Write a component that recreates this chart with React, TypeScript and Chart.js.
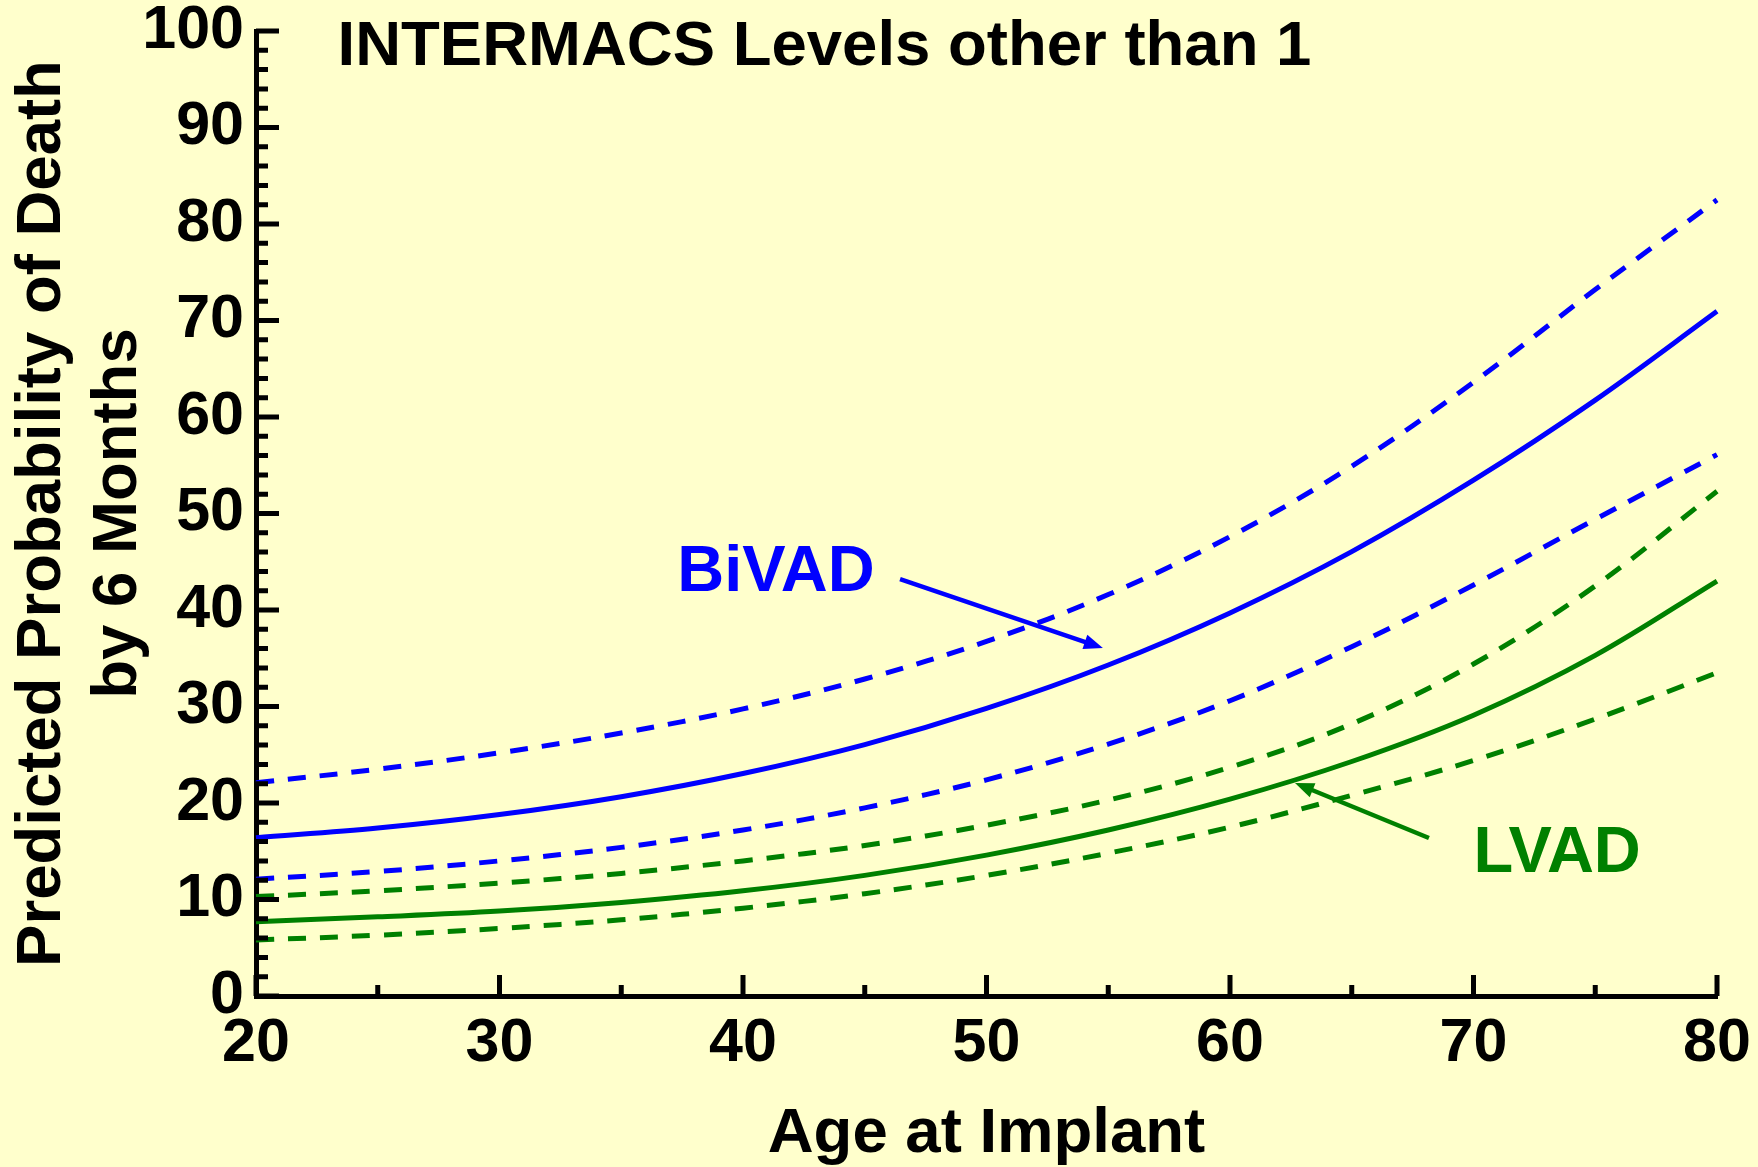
import React, { useEffect, useRef } from "react";
import { Chart, registerables } from "chart.js";

Chart.register(...registerables);

// ---- data ----
const ages = [20, 25, 30, 35, 40, 45, 50, 55, 60, 65, 70, 75, 80];
const bivadEstimate = [16.4, 17.4, 18.8, 20.65, 23.05, 26.05, 29.8, 34.3, 39.7, 46.05, 53.45, 61.75, 70.95];
const bivadUpper = [22.1, 23.5, 25.2, 27.25, 29.75, 32.85, 36.75, 41.6, 47.6, 54.9, 63.6, 73.2, 82.5];
const bivadLower = [12.1, 12.9, 14.0, 15.4, 17.2, 19.5, 22.4, 26.1, 30.6, 36.2, 42.6, 49.4, 56.1];
const lvadEstimate = [7.7, 8.2, 8.8, 9.7, 10.9, 12.5, 14.6, 17.2, 20.4, 24.3, 29.1, 35.3, 43.0];
const lvadUpper = [10.3, 10.9, 11.7, 12.7, 14.0, 15.6, 17.7, 20.3, 23.7, 28.2, 34.4, 42.5, 52.3];
const lvadLower = [5.8, 6.3, 7.0, 7.9, 9.1, 10.6, 12.5, 14.8, 17.5, 20.8, 24.4, 28.7, 33.5];

const xTickValues = [20, 30, 40, 50, 60, 70, 80];
const yTickValues = [0, 10, 20, 30, 40, 50, 60, 70, 80, 90, 100];

const chartTitle = "INTERMACS Levels other than 1";
const xTitle = "Age at Implant";
const yTitle = ["Predicted Probability of Death", "by 6 Months"];

const BLUE = "#0000FF";
const GREEN = "#008000";
const BG = "#FFFFCC";
const FONT = "'Liberation Sans', Arial, Helvetica, sans-serif";

const toPoints = (vals: number[]) => ages.map((a, i) => ({ x: a, y: vals[i] }));

const inwardTicks = {
  id: "inwardTicks",
  afterDraw(chart: any) {
    const { ctx, scales } = chart;
    const x = scales.x;
    const y = scales.y;
    const x0 = x.getPixelForValue(20);
    const y0 = y.getPixelForValue(0);
    ctx.save();
    ctx.strokeStyle = "#000";
    ctx.lineWidth = 5;
    ctx.lineCap = "butt";
    ctx.beginPath();
    for (let v = 0; v <= 100; v += 2) {
      const py = y.getPixelForValue(v);
      const len = v % 10 === 0 ? 23 : 12;
      ctx.moveTo(x0, py);
      ctx.lineTo(x0 + len, py);
    }
    for (let v = 20; v <= 80; v += 5) {
      const px = x.getPixelForValue(v);
      const len = v % 10 === 0 ? 21 : 11;
      ctx.moveTo(px, y0);
      ctx.lineTo(px, y0 - len);
    }
    ctx.stroke();
    ctx.restore();
  },
};

function drawArrow(ctx: any, x1: number, y1: number, x2: number, y2: number, color: string) {
  const ang = Math.atan2(y2 - y1, x2 - x1);
  const headLen = 19;
  const headHalf = 7.5;
  const bx = x2 - headLen * Math.cos(ang);
  const by = y2 - headLen * Math.sin(ang);
  ctx.save();
  ctx.strokeStyle = color;
  ctx.fillStyle = color;
  ctx.lineWidth = 4.5;
  ctx.lineCap = "butt";
  ctx.beginPath();
  ctx.moveTo(x1, y1);
  ctx.lineTo(bx + 2 * Math.cos(ang), by + 2 * Math.sin(ang));
  ctx.stroke();
  ctx.beginPath();
  ctx.moveTo(x2, y2);
  ctx.lineTo(bx + headHalf * Math.sin(ang), by - headHalf * Math.cos(ang));
  ctx.lineTo(bx - headHalf * Math.sin(ang), by + headHalf * Math.cos(ang));
  ctx.closePath();
  ctx.fill();
  ctx.restore();
}

const annotations = {
  id: "annotations",
  afterDraw(chart: any) {
    const { ctx, scales } = chart;
    const x = scales.x;
    const y = scales.y;
    const px = (v: number) => x.getPixelForValue(v);
    const py = (v: number) => y.getPixelForValue(v);
    ctx.save();
    ctx.textBaseline = "alphabetic";
    ctx.textAlign = "left";
    ctx.font = `bold 63.5px ${FONT}`;
    ctx.fillStyle = "#000";
    ctx.fillText(chartTitle, px(23.35), py(96.5));
    ctx.font = `bold 65px ${FONT}`;
    ctx.fillStyle = BLUE;
    ctx.fillText("BiVAD", px(37.3), py(41.95));
    ctx.fillStyle = GREEN;
    ctx.fillText("LVAD", px(70.0), py(12.85));
    ctx.restore();
    drawArrow(ctx, px(46.45), py(43.2), px(54.78), py(36.06), BLUE);
    drawArrow(ctx, px(68.17), py(16.37), px(62.67), py(22.07), GREEN);
  },
};

export default function App() {
  const canvasRef = useRef<HTMLCanvasElement | null>(null);

  useEffect(() => {
    const canvas = canvasRef.current;
    if (!canvas) return;
    const dash = [18, 14];
    const mk = (label: string, vals: number[], color: string, dashed: boolean) => ({
      label,
      data: toPoints(vals),
      borderColor: color,
      backgroundColor: color,
      borderWidth: 5,
      borderDash: dashed ? dash : [],
      pointRadius: 0,
      fill: false,
      tension: 0.35,
      clip: false as any,
    });
    const chart = new Chart(canvas, {
      type: "line",
      data: {
        datasets: [
          mk("BiVAD upper", bivadUpper, BLUE, true),
          mk("BiVAD", bivadEstimate, BLUE, false),
          mk("BiVAD lower", bivadLower, BLUE, true),
          mk("LVAD upper", lvadUpper, GREEN, true),
          mk("LVAD", lvadEstimate, GREEN, false),
          mk("LVAD lower", lvadLower, GREEN, true),
        ],
      },
      options: {
        animation: false,
        responsive: false,
        devicePixelRatio: 1,
        layout: { padding: { top: 31, right: 41, left: 0, bottom: 0 } },
        plugins: {
          legend: { display: false },
          title: { display: false },
          tooltip: { enabled: false },
        },
        scales: {
          x: {
            type: "linear",
            min: 20,
            max: 80,
            afterBuildTicks: (scale: any) => {
              scale.ticks = xTickValues.map((v) => ({ value: v }));
            },
            ticks: {
              font: { family: FONT, size: 61, weight: "bold", lineHeight: 1.2 },
              color: "#000",
              padding: 4,
              maxRotation: 0,
              autoSkip: false,
            },
            grid: { display: false },
            border: { display: true, color: "#000", width: 5 },
            title: {
              display: true,
              text: xTitle,
              color: "#000",
              font: { family: FONT, size: 63.5, weight: "bold", lineHeight: 1.22 },
              padding: { top: 0, bottom: -6 },
            },
            afterFit: (scale: any) => {
              scale.height = 171;
              scale.paddingLeft = 0;
              scale.paddingRight = 0;
            },
          },
          y: {
            type: "linear",
            min: 0,
            max: 100,
            afterBuildTicks: (scale: any) => {
              scale.ticks = yTickValues.map((v) => ({ value: v }));
            },
            ticks: {
              font: { family: FONT, size: 61, weight: "bold", lineHeight: 1.2 },
              color: "#000",
              padding: 4,
              autoSkip: false,
            },
            grid: { display: false },
            border: { display: true, color: "#000", width: 5 },
            title: {
              display: true,
              text: yTitle,
              color: "#000",
              font: { family: FONT, size: 63.5, weight: "bold", lineHeight: 1.2 },
              padding: { top: 4, bottom: 0 },
            },
            afterFit: (scale: any) => {
              scale.width = 256;
              scale.paddingTop = 0;
              scale.paddingBottom = 0;
            },
          },
        },
      } as any,
      plugins: [inwardTicks, annotations],
    });
    return () => chart.destroy();
  }, []);

  return (
    <div
      style={{
        position: "absolute",
        left: 0,
        top: 0,
        width: 1758,
        height: 1167,
        background: BG,
        overflow: "hidden",
      }}
    >
      <canvas ref={canvasRef} width={1758} height={1167} style={{ display: "block" }} />
    </div>
  );
}
